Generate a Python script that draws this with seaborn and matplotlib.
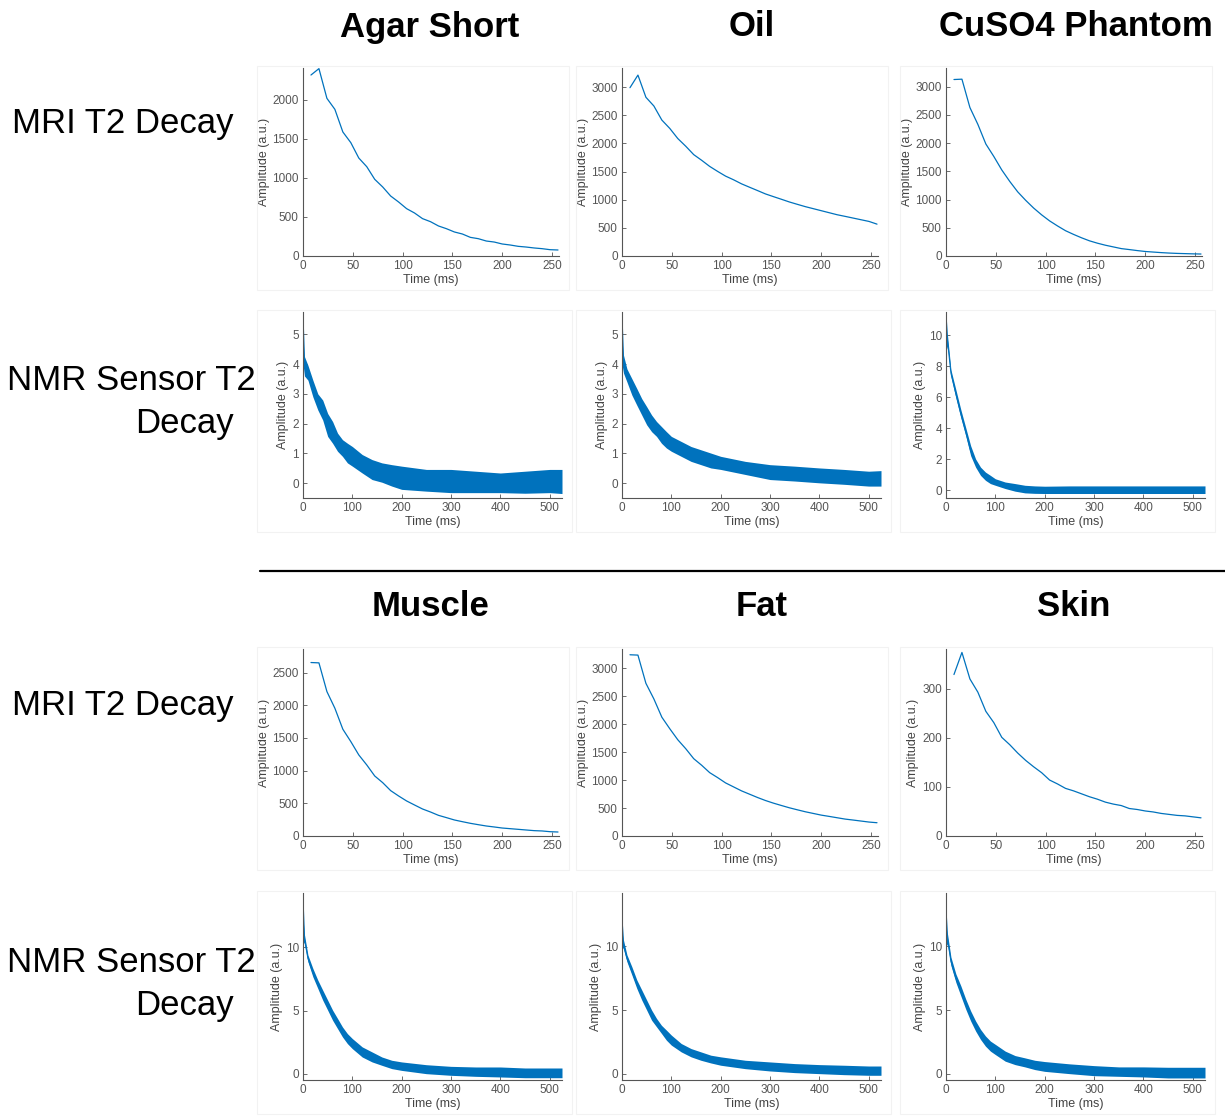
#!/usr/bin/env python3

import numpy as np
import pandas as pd
import matplotlib
matplotlib.use("Agg")
import matplotlib.pyplot as plt
from matplotlib.patches import Rectangle
import seaborn as sns

# MRI echo times (ms)
mri_t = [8, 16, 24, 32, 40, 48, 56, 64, 72, 80, 88, 96, 104, 112, 120, 128,
         136, 144, 152, 160, 168, 176, 184, 192, 200, 208, 216, 224, 232,
         240, 248, 256]

mri_agar = [2320, 2402, 2021, 1880, 1590, 1453, 1256, 1145, 983, 885, 769,
            692, 607, 551, 479, 440, 385, 350, 308, 282, 239, 222, 192, 179,
            154, 141, 124, 115, 103, 94, 81, 77]
mri_oil = [2990, 3214, 2820, 2665, 2415, 2266, 2087, 1950, 1801, 1700, 1592,
           1503, 1419, 1354, 1282, 1222, 1163, 1103, 1055, 1008, 960, 918,
           877, 841, 805, 769, 733, 704, 674, 644, 614, 566]
mri_cuso4 = [3126, 3132, 2630, 2331, 1984, 1763, 1524, 1321, 1136, 986, 849,
             729, 622, 532, 448, 383, 323, 269, 227, 191, 161, 131, 114, 96,
             80, 70, 60, 52, 46, 42, 38, 35]
mri_muscle = [2653, 2648, 2209, 1954, 1633, 1444, 1240, 1087, 918, 816, 694,
              612, 536, 474, 413, 367, 316, 281, 245, 219, 194, 173, 153,
              138, 122, 112, 102, 92, 82, 77, 66, 61]
mri_fat = [3237, 3231, 2727, 2448, 2122, 1915, 1719, 1559, 1381, 1263, 1132,
           1043, 948, 877, 806, 747, 688, 634, 587, 545, 504, 468, 433, 403,
           373, 350, 326, 302, 285, 267, 249, 237]
mri_skin = [329, 374, 320, 293, 254, 231, 201, 186, 169, 154, 141, 129, 114,
            106, 97, 92, 86, 80, 75, 69, 65, 62, 56, 54, 51, 49, 46, 44, 42,
            41, 39, 37]

# NMR sensor decays: noisy, kept as upper / lower envelope of the trace
nmr_t = [0, 3, 10, 20, 30, 40, 50, 60, 70, 80, 90, 100, 120, 140, 160, 180,
         200, 250, 300, 350, 400, 450, 500, 525]

nmr_agar_hi = [5.7, 4.25, 3.96, 3.46, 3.0, 2.79, 2.34, 2.07, 1.68, 1.46, 1.34,
               1.23, 0.96, 0.79, 0.68, 0.62, 0.57, 0.46, 0.46, 0.4, 0.34, 0.4,
               0.46, 0.46]
nmr_agar_lo = [4.0, 3.6, 3.46, 2.9, 2.46, 2.12, 1.57, 1.34, 1.07, 0.9, 0.68,
               0.57, 0.34, 0.12, 0.03, -0.1, -0.21, -0.27, -0.32, -0.32,
               -0.32, -0.34, -0.32, -0.35]
nmr_oil_hi = [5.7, 4.3, 3.84, 3.51, 3.18, 2.84, 2.57, 2.29, 2.07, 1.9, 1.73,
              1.57, 1.4, 1.23, 1.12, 1.01, 0.9, 0.73, 0.62, 0.57, 0.51, 0.46,
              0.4, 0.42]
nmr_oil_lo = [4.0, 3.7, 3.4, 2.96, 2.62, 2.29, 1.96, 1.73, 1.57, 1.34, 1.18,
              1.07, 0.9, 0.73, 0.62, 0.51, 0.46, 0.29, 0.12, 0.07, 0.01,
              -0.04, -0.1, -0.1]
nmr_cuso4_hi = [11.4, 10.0, 7.77, 6.49, 5.21, 4.04, 2.87, 2.02, 1.49, 1.17,
                0.96, 0.74, 0.53, 0.43, 0.32, 0.28, 0.26, 0.28, 0.28, 0.28,
                0.28, 0.28, 0.28, 0.28]
nmr_cuso4_lo = [9.0, 9.3, 7.34, 5.96, 4.68, 3.51, 2.23, 1.49, 0.96, 0.64,
                0.43, 0.32, 0.11, -0.06, -0.17, -0.2, -0.21, -0.21, -0.21,
                -0.21, -0.21, -0.21, -0.21, -0.21]
nmr_muscle_hi = [14.0, 11.0, 9.39, 8.33, 7.41, 6.61, 5.82, 5.03, 4.37, 3.7,
                 3.17, 2.78, 2.12, 1.72, 1.32, 1.06, 0.93, 0.71, 0.58, 0.53,
                 0.53, 0.45, 0.45, 0.45]
nmr_muscle_lo = [10.5, 10.3, 8.86, 7.67, 6.75, 5.82, 5.03, 4.23, 3.57, 2.91,
                 2.38, 1.98, 1.32, 0.93, 0.66, 0.4, 0.26, 0.0, -0.13, -0.21,
                 -0.26, -0.32, -0.32, -0.32]
nmr_fat_hi = [12.3, 10.5, 9.34, 8.4, 7.37, 6.58, 5.79, 5.0, 4.34, 3.8, 3.42,
              3.03, 2.37, 1.97, 1.71, 1.45, 1.32, 1.05, 0.92, 0.79, 0.71,
              0.66, 0.6, 0.6]
nmr_fat_lo = [10.0, 9.8, 8.8, 7.76, 6.7, 5.79, 5.0, 4.2, 3.68, 3.16, 2.63,
              2.24, 1.71, 1.32, 1.05, 0.84, 0.66, 0.39, 0.21, 0.08, 0.0,
              -0.08, -0.13, -0.13]
nmr_skin_hi = [13.0, 11.0, 9.16, 7.84, 6.91, 5.86, 4.93, 4.14, 3.48, 2.96,
               2.56, 2.3, 1.77, 1.42, 1.24, 1.05, 0.95, 0.77, 0.63, 0.53,
               0.53, 0.5, 0.5, 0.5]
nmr_skin_lo = [10.0, 10.2, 8.5, 7.18, 6.12, 5.07, 4.14, 3.35, 2.69, 2.16,
               1.77, 1.5, 0.98, 0.71, 0.53, 0.32, 0.18, 0.0, -0.16, -0.21,
               -0.26, -0.34, -0.34, -0.34]

top_titles = ["Agar Short", "Oil", "CuSO4 Phantom"]
bottom_titles = ["Muscle", "Fat", "Skin"]

mri_series = [mri_agar, mri_oil, mri_cuso4, mri_muscle, mri_fat, mri_skin]
mri_ylims = [2410, 3340, 3330, 2860, 3340, 381]
mri_yticks = [[0, 500, 1000, 1500, 2000],
              [0, 500, 1000, 1500, 2000, 2500, 3000],
              [0, 500, 1000, 1500, 2000, 2500, 3000],
              [0, 500, 1000, 1500, 2000, 2500],
              [0, 500, 1000, 1500, 2000, 2500, 3000],
              [0, 100, 200, 300]]

nmr_series = [(nmr_agar_hi, nmr_agar_lo), (nmr_oil_hi, nmr_oil_lo),
              (nmr_cuso4_hi, nmr_cuso4_lo), (nmr_muscle_hi, nmr_muscle_lo),
              (nmr_fat_hi, nmr_fat_lo), (nmr_skin_hi, nmr_skin_lo)]
nmr_ylims = [(-0.5, 5.75), (-0.5, 5.75), (-0.5, 11.5),
             (-0.5, 14.3), (-0.5, 14.2), (-0.5, 14.2)]
nmr_yticks = [[0, 1, 2, 3, 4, 5], [0, 1, 2, 3, 4, 5],
              [0, 2, 4, 6, 8, 10], [0, 5, 10], [0, 5, 10], [0, 5, 10]]

LINE_COLOR = "#0072BD"
AX_COLOR = "#555555"
W, H = 1225, 1116

sns.set_theme(style="ticks")
plt.rcParams['font.family'] = ['Liberation Sans', 'DejaVu Sans']

fig = plt.figure(figsize=(W / 100, H / 100), dpi=100)


def add_axes(left, top, right, bottom):
    # pixel box -> figure fraction, plus the faint panel frame around it
    frame = Rectangle(((left - 46) / W, 1 - (bottom + 34) / H),
                      (right - left + 56) / W, (bottom - top + 36) / H,
                      transform=fig.transFigure, fill=False,
                      edgecolor="#f2f2f2", linewidth=0.8)
    fig.patches.append(frame)
    return fig.add_axes([left / W, 1 - bottom / H,
                         (right - left) / W, (bottom - top) / H])


def style_axes(ax):
    sns.despine(ax=ax)
    for side in ("left", "bottom"):
        ax.spines[side].set_color(AX_COLOR)
        ax.spines[side].set_linewidth(0.8)
    ax.tick_params(direction="in", length=3, width=0.6, colors=AX_COLOR,
                   labelsize=8.5, pad=3)
    ax.set_xlabel("Time (ms)", fontsize=9, color="#444444", labelpad=1)
    ax.set_ylabel("Amplitude (a.u.)", fontsize=9, color="#444444",
                  labelpad=2)


col_lefts = [303, 622, 946]
col_width = 256
mri_rows = [(68, 256), (649, 836)]
nmr_rows = [(312, 498), (893, 1080)]

for idx in range(6):
    half = idx // 3
    col = idx % 3
    left = col_lefts[col]
    right = left + col_width

    # MRI panel
    top, bot = mri_rows[half]
    ax = add_axes(left, top, right, bot)
    sns.lineplot(x=mri_t, y=mri_series[idx], ax=ax, color=LINE_COLOR,
                 linewidth=0.9)
    ax.set_xlim(0, 257)
    ax.set_ylim(0, mri_ylims[idx])
    ax.set_xticks([0, 50, 100, 150, 200, 250])
    ax.set_yticks(mri_yticks[idx])
    style_axes(ax)

    # NMR panel: band between envelope values via percentile interval
    top, bot = nmr_rows[half]
    ax = add_axes(left, top, right + 3, bot)
    hi, lo = nmr_series[idx]
    df = pd.DataFrame({
        "t": nmr_t + nmr_t,
        "amp": hi + lo,
    })
    sns.lineplot(data=df, x="t", y="amp", ax=ax, color=LINE_COLOR,
                 linewidth=0.8, estimator="mean", errorbar=("pi", 100),
                 err_kws={"alpha": 1.0, "linewidth": 0})
    ax.set_xlim(0, 525)
    ax.set_ylim(*nmr_ylims[idx])
    ax.set_xticks([0, 100, 200, 300, 400, 500])
    ax.set_yticks(nmr_yticks[idx])
    style_axes(ax)

title_kw = dict(fontsize=25, fontweight="bold", ha="center", va="center",
                color="black")
for name, cx in zip(top_titles, [430, 752, 1076]):
    fig.text(cx / W, 1 - 27 / H, name, **title_kw)
for name, cx in zip(bottom_titles, [431, 762, 1074]):
    fig.text(cx / W, 1 - 607 / H, name, **title_kw)

row_kw = dict(fontsize=25, ha="right", va="center", color="black")
for y_mri, y_nmr in [(123, 381), (705, 962)]:
    fig.text(234 / W, 1 - y_mri / H, "MRI T2 Decay", **row_kw)
    fig.text(256 / W, 1 - y_nmr / H, "NMR Sensor T2", **row_kw)
    fig.text(234 / W, 1 - (y_nmr + 43) / H, "Decay", **row_kw)

fig.add_artist(plt.Line2D([260 / W, 1.0], [1 - 571 / H, 1 - 571 / H],
                          transform=fig.transFigure, color="black",
                          linewidth=1.6))

fig.savefig("out.png", dpi=100)
